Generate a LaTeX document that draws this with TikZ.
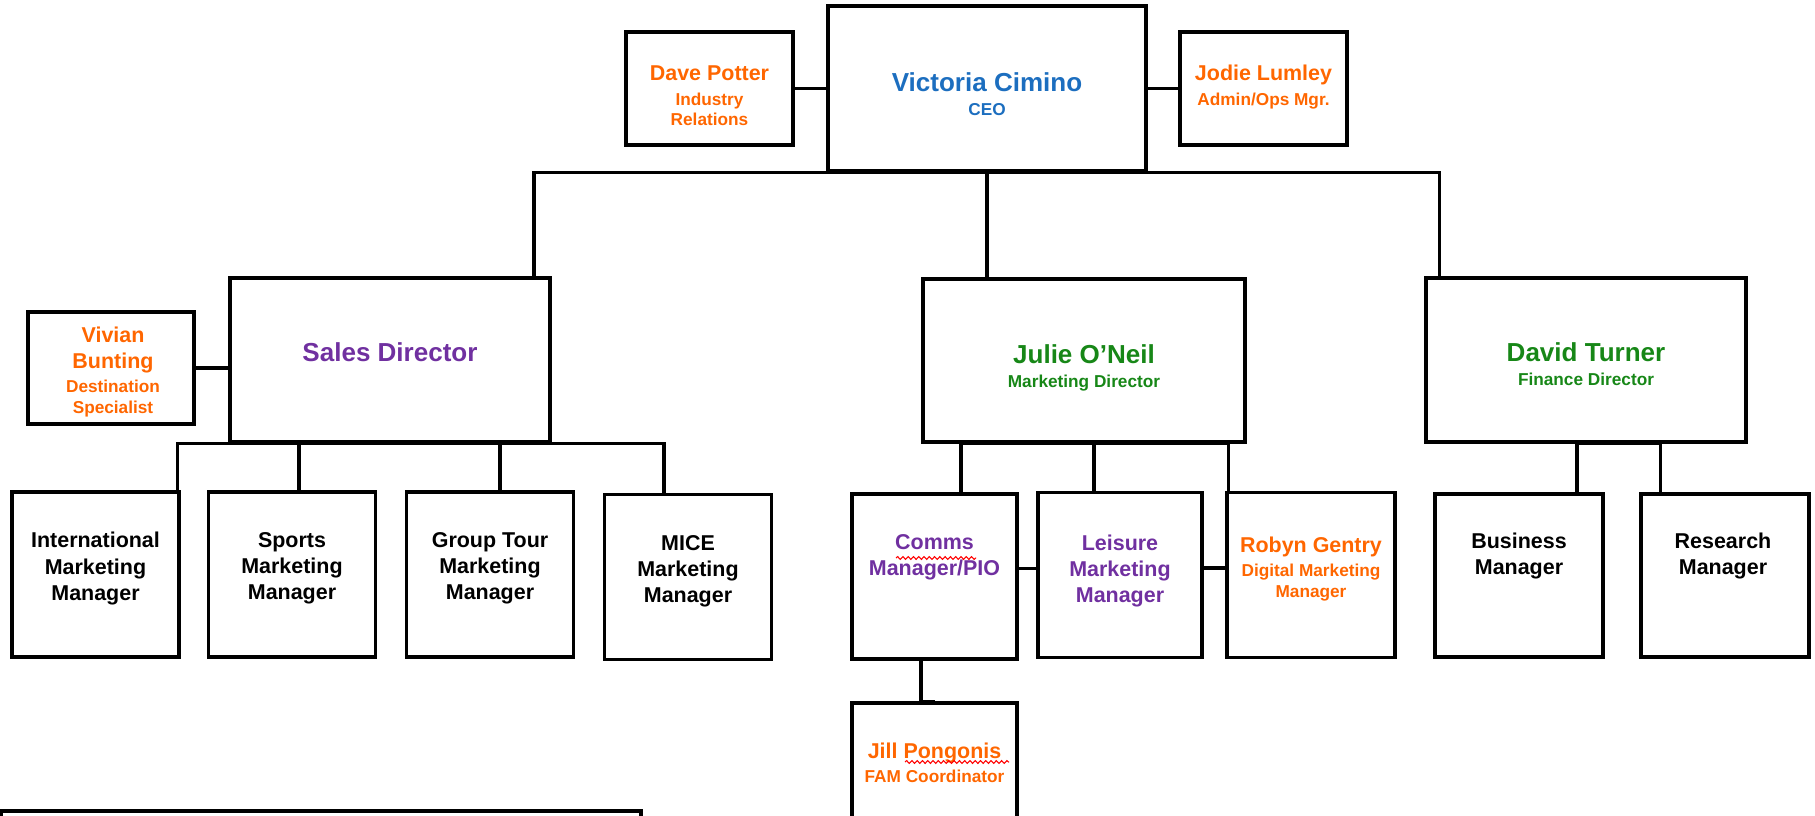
\documentclass[tikz,border=0pt]{standalone}
\usepackage{fontspec}
\setmainfont{Liberation Sans}
\usetikzlibrary{decorations.pathmorphing}
\setlength{\parindent}{0pt}
\definecolor{orgorange}{HTML}{FF6600}
\definecolor{orgblue}{HTML}{1C6EBF}
\definecolor{orgpurple}{HTML}{7030A0}
\definecolor{orggreen}{HTML}{178717}
\newcommand{\namebig}{\fontsize{7.4}{8.9}\selectfont}
\newcommand{\namemid}{\fontsize{6.1}{7.4}\selectfont}
\newcommand{\rolesm}{\fontsize{4.9}{5.9}\selectfont}
\begin{document}
\begin{tikzpicture}[x=0.01cm,y=-0.01cm,
    box/.style={draw,line width=1pt,minimum width=1.67cm,minimum height=1.65cm,inner sep=0},
    widebox/.style={box,minimum width=3.2cm,minimum height=1.64cm},
    sidebox/.style={box,minimum height=1.13cm},
    txt/.style={align=flush center,text width=3cm,inner sep=0,font=\bfseries},
    link/.style={line width=0.95pt},
    spell/.style={red,line width=0.3pt,decorate,decoration={snake,amplitude=0.4pt,segment length=1.5pt}}]
    \useasboundingbox (0,0) rectangle (1815,815);
    \clip (0,0) rectangle (1815,815);
    % top row
    \node[widebox,minimum width=3.18cm,minimum height=1.65cm] (ceo) at (987,88.5) {};
    \node[txt,text=orgblue] (ceo-t) at (987,94) {{\namebig Victoria Cimino\par}\vspace{1pt}{\rolesm CEO\par}};
    \node[sidebox] (dave) at (709.5,88.5) {};
    \node[txt,text=orgorange] (dave-t) at (709.5,96) {{\namemid Dave Potter\par}\vspace{1pt}{\rolesm Industry\\Relations\par}};
    \node[sidebox] (jodie) at (1263.5,88.5) {};
    \node[txt,text=orgorange] (jodie-t) at (1263.5,87) {{\namemid Jodie Lumley\par}\vspace{1pt}{\rolesm Admin/Ops Mgr.\par}};
    % directors
    \node[widebox] (sales) at (390,360) {};
    \node[txt,text=orgpurple] (sales-t) at (390,352) {\namebig Sales Director\par};
    \node[sidebox,minimum width=1.66cm,minimum height=1.12cm] (vivian) at (111,368) {};
    \node[txt,text=orgorange] (vivian-t) at (113,372) {{\namemid Vivian\\Bunting\par}\vspace{1pt}{\rolesm Destination\\Specialist\par}};
    \node[widebox,minimum width=3.22cm,minimum height=1.63cm] (julie) at (1084,360.5) {};
    \node[txt,text=orggreen] (julie-t) at (1084,368) {{\namebig Julie O'Neil\par}\vspace{1pt}{\rolesm Marketing Director\par}};
    \node[widebox] (david) at (1586,360) {};
    \node[txt,text=orggreen] (david-t) at (1586,364.5) {{\namebig David Turner\par}\vspace{1pt}{\rolesm Finance Director\par}};
    % sales team
    \foreach \nm/\px/\py/\lbl in {intl/95.5/574.5/International,sports/292/574.5/Sports,grptour/490/574.5/Group Tour,mice/688/577/MICE}{
        \node[box] (\nm) at (\px,\py) {};
        \node[txt] (\nm-t) at (\px,\py-6) {{\namemid \lbl\\Marketing\\Manager\par}};
    }
    % marketing team
    \node[box,minimum width=1.65cm] (comms) at (934.5,576.5) {};
    \node[txt,text=orgpurple] (comms-t) at (934.5,557.5) {{\namemid Comms\\Manager/PIO\par}};
    \node[box,minimum width=1.64cm] (leisure) at (1120,575) {};
    \node[txt,text=orgpurple] (leisure-t) at (1120,571) {{\namemid Leisure\\Marketing\\Manager\par}};
    \node[box,minimum width=1.68cm] (robyn) at (1311,575) {};
    \node[txt,text=orgorange] (robyn-t) at (1311,569) {{\namemid Robyn Gentry\par}\vspace{1pt}{\rolesm Digital Marketing\\Manager\par}};
    \node[box,minimum width=1.65cm] (jill) at (934.5,785.5) {};
    \node[txt,text=orgorange] (jill-t) at (934.5,763) {{\namemid Jill Pongonis\par}\vspace{1pt}{\rolesm FAM Coordinator\par}};
    % finance team
    \node[box,minimum width=1.68cm,minimum height=1.63cm] (business) at (1519,575.5) {};
    \node[txt] (business-t) at (1519,556) {{\namemid Business\\Manager\par}};
    \node[box,minimum width=1.68cm,minimum height=1.63cm] (research) at (1725,575.5) {};
    \node[txt] (research-t) at (1723,556) {{\namemid Research\\Manager\par}};
    % cut off at the bottom
    \node[box,minimum width=6.4cm] (extra) at (321,893.5) {};
    % links
    \draw[link] (dave) -- (ceo);
    \draw[link] (jodie) -- (ceo);
    \draw[link] ([xshift=-0.18cm]sales.north east) |- (ceo.south);
    \draw[link] (ceo.south) -- (ceo.south |- julie.north);
    \draw[link] ([xshift=0.15cm]david.north west) |- (ceo.south);
    \draw[link] (vivian.east) -- (vivian.east -| sales.west);
    \draw[link] ([xshift=-0.03cm]intl.north east) |- (sales.south);
    \draw[link] ([xshift=0.07cm]sports.north) |- (sales.south);
    \draw[link] ([xshift=0.1cm]grptour.north) |- (sales.south);
    \draw[link] ([xshift=-0.24cm]mice.north) |- (sales.south);
    \draw[link] ([xshift=0.265cm]comms.north) |- (julie.south);
    \draw[link] ([xshift=-0.26cm]leisure.north) |- (julie.south);
    \draw[link] ([xshift=0.03cm]robyn.north west) |- (julie.south);
    \draw[link] ([yshift=0.08cm]comms.east) -- ([yshift=0.08cm]comms.east -| leisure.west);
    \draw[link] ([yshift=0.07cm]leisure.east) -- ([yshift=0.07cm]leisure.east -| robyn.west);
    \draw[link] ([xshift=-0.135cm]comms.south) |- (jill.north);
    \draw[link] ([xshift=0.58cm]business.north) |- (david.south);
    \draw[link] ([xshift=0.21cm]research.north west) |- (david.south);
    % spell check marks
    \draw[spell] (896,558) -- (976,558);
    \draw[spell] (905,762) -- (1009,762);
\end{tikzpicture}
\end{document}
